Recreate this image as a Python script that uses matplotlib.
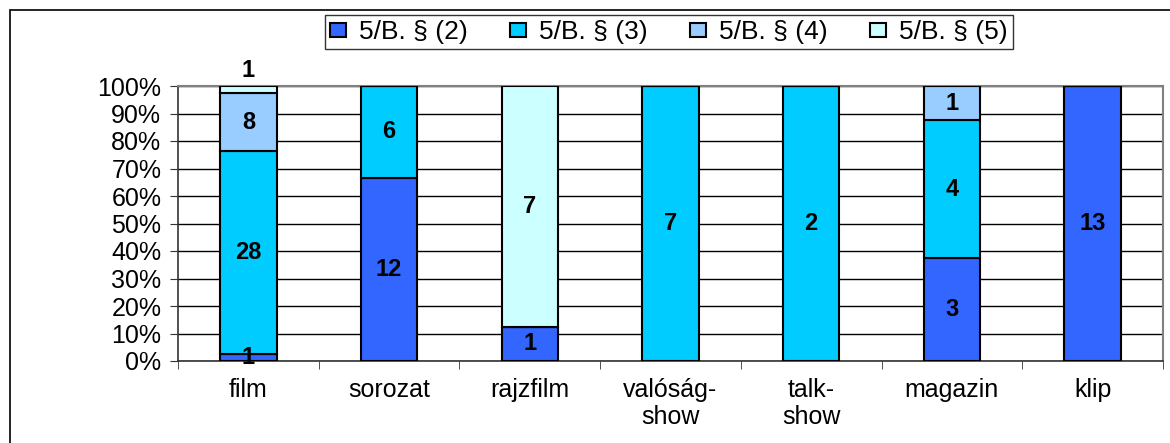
"""100% stacked bars of 5/B. § cases per programme type."""
import numpy as np
from matplotlib import pyplot as plt
from matplotlib.patches import Rectangle

plt.rcParams["font.family"] = ["Liberation Sans", "DejaVu Sans"]

categories = ["film", "sorozat", "rajzfilm", "valóság-\nshow", "talk-\nshow", "magazin", "klip"]
series_names = ["5/B. § (2)", "5/B. § (3)", "5/B. § (4)", "5/B. § (5)"]
counts_2 = [1, 12, 1, 0, 0, 3, 13]
counts_3 = [28, 6, 0, 7, 2, 4, 0]
counts_4 = [8, 0, 0, 0, 0, 1, 0]
counts_5 = [1, 0, 7, 0, 0, 0, 0]
colors = ["#3366FF", "#00CCFF", "#99CCFF", "#CCFFFF"]

counts = np.array([counts_2, counts_3, counts_4, counts_5], dtype=float)
totals = counts.sum(axis=0)
shares = counts / totals * 100

fig = plt.figure(figsize=(11.7, 4.43), dpi=100)
ax = fig.add_axes([178 / 1170, 1 - 361 / 443, (1163 - 178) / 1170, (361 - 86) / 443])

# outer chart border (runs off the right and bottom of the image)
fig.add_artist(Rectangle((10 / 1170, -0.1), 1.2, 1 - 10 / 443 + 0.1,
                         transform=fig.transFigure, fill=False, edgecolor="black", lw=1.2))

x = np.arange(len(categories))
bottom = np.zeros(len(categories))
bars = []
for i, name in enumerate(series_names):
    b = ax.bar(x, shares[i], 0.4, bottom=bottom, color=colors[i], edgecolor="black",
               linewidth=1.5, label=name, zorder=3)
    bars.append(b)
    for j in range(len(categories)):
        if counts[i, j] == 0:
            continue
        mid = bottom[j] + shares[i, j] / 2
        top_small = shares[i, j] < 4 and bottom[j] + shares[i, j] >= 99.9
        if top_small:
            ax.text(x[j], 101.5, f"{int(counts[i, j])}", ha="center", va="bottom",
                    fontsize=17, fontweight="bold", zorder=5, clip_on=False)
        else:
            ax.text(x[j], mid, f"{int(counts[i, j])}", ha="center", va="center",
                    fontsize=17, fontweight="bold", zorder=5)
    bottom += shares[i]

ax.set_xlim(-0.5, len(categories) - 0.5)
ax.set_ylim(0, 100)
ax.set_yticks(np.arange(0, 101, 10))
ax.set_yticklabels([f"{v}%" for v in range(0, 101, 10)], fontsize=18)
ax.yaxis.grid(True, color="black", linewidth=1, zorder=0)
ax.set_axisbelow(True)

ax.set_xticks(x)
ax.set_xticklabels(categories, fontsize=18, linespacing=1.2)
ax.tick_params(axis="x", length=0, pad=12)
ax.set_xticks(np.arange(-0.5, len(categories)), minor=True)
ax.tick_params(axis="x", which="minor", length=6, direction="out", color="#333333")
ax.tick_params(axis="y", length=6, direction="out", color="#333333", pad=6)

for side in ["top", "right"]:
    ax.spines[side].set_color("#808080")
    ax.spines[side].set_linewidth(1.5)
for side in ["left", "bottom"]:
    ax.spines[side].set_color("#333333")
    ax.spines[side].set_linewidth(1.2)

leg = fig.legend(handles=bars, labels=series_names, loc="center",
                 bbox_to_anchor=(669 / 1170, 1 - 32 / 443), ncol=4, fontsize=19,
                 frameon=True, fancybox=False, edgecolor="black",
                 handlelength=0.6, handleheight=0.45, handletextpad=0.5,
                 columnspacing=1.6, borderpad=0.2, borderaxespad=0)
leg.get_frame().set_linewidth(1)

fig.savefig("out.png", dpi=100)
